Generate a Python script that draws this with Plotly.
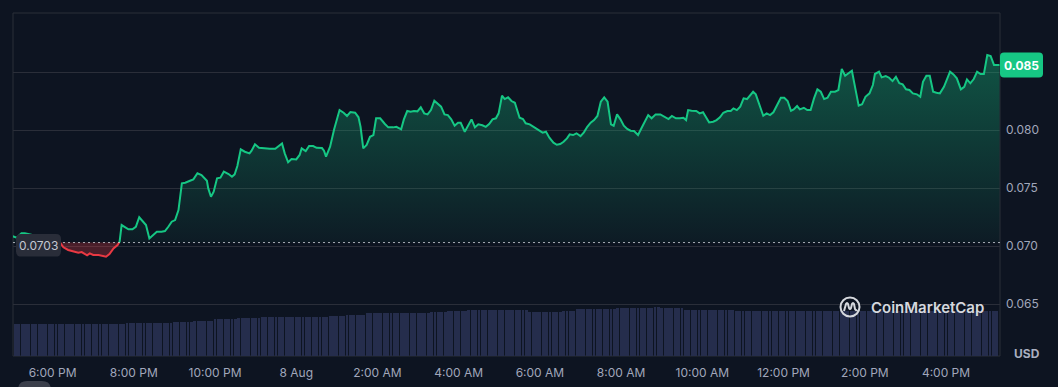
import numpy as np
import pandas as pd
import plotly.graph_objects as go

# ---------------- data ----------------
START = pd.Timestamp("2024-08-07 17:00")

minutes = [
    0, 7, 14, 19, 30, 41, 53, 64, 68, 72,
    76, 83, 91, 98, 103, 108, 111, 115, 120, 128,
    135, 139, 144, 150, 156, 159, 162, 167, 172, 178,
    183, 188, 193, 198, 203, 208, 214, 221, 226, 231,
    236, 241, 246, 251, 256, 263, 268, 274, 280, 288,
    290, 294, 298, 303, 308, 313, 320, 325, 329, 333,
    338, 344, 351, 354, 359, 365, 374, 381, 389, 395,
    399, 403, 408, 413, 420, 425, 428, 434, 439, 445,
    450, 458, 461, 464, 470, 476, 484, 490, 495, 500,
    507, 512, 515, 519, 524, 529, 534, 538, 544, 551,
    556, 563, 568, 575, 579, 584, 589, 594, 599, 604,
    609, 614, 619, 624, 629, 634, 639, 644, 649, 654,
    659, 663, 669, 674, 679, 684, 689, 695, 700, 705,
    710, 715, 719, 724, 728, 733, 738, 743, 750, 755,
    759, 765, 771, 778, 784, 789, 794, 800, 805, 810,
    815, 820, 824, 829, 834, 840, 845, 850, 855, 860,
    865, 870, 875, 880, 885, 889, 894, 899, 904, 909,
    914, 919, 925, 930, 935, 940, 945, 951, 958, 965,
    970, 975, 981, 987, 992, 996, 999, 1004, 1011, 1016,
    1021, 1025, 1030, 1036, 1041, 1046, 1051, 1057, 1062, 1066,
    1071, 1076, 1081, 1086, 1091, 1095, 1099, 1104, 1110, 1115,
    1120, 1125, 1130, 1136, 1141, 1146, 1151, 1155, 1160, 1164,
    1170, 1175, 1180, 1185, 1190, 1195, 1200, 1205, 1210, 1216,
    1221, 1226, 1231, 1236, 1241, 1246, 1251, 1256, 1261, 1267,
    1272, 1275, 1281, 1285, 1291, 1296, 1301, 1306, 1311, 1316,
    1321, 1326, 1331, 1337, 1342, 1346, 1351, 1356, 1361, 1366,
    1371, 1377, 1386, 1391, 1396, 1402, 1407, 1411, 1416, 1421,
    1426, 1431, 1436, 1441, 1446, 1451, 1459,
]

prices = [
    0.07086, 0.07072, 0.07110, 0.07110, 0.07095, 0.07078, 0.07086, 0.07069, 0.07052, 0.07023,
    0.06989, 0.06966, 0.06951, 0.06942, 0.06948, 0.06931, 0.06920, 0.06937, 0.06923, 0.06923,
    0.06914, 0.06908, 0.06931, 0.06980, 0.07009, 0.07037, 0.07181, 0.07161, 0.07144, 0.07144,
    0.07166, 0.07248, 0.07218, 0.07181, 0.07066, 0.07095, 0.07123, 0.07123, 0.07129, 0.07166,
    0.07210, 0.07224, 0.07310, 0.07541, 0.07546, 0.07563, 0.07575, 0.07627, 0.07612, 0.07563,
    0.07497, 0.07425, 0.07468, 0.07584, 0.07589, 0.07641, 0.07621, 0.07597, 0.07618, 0.07690,
    0.07834, 0.07813, 0.07799, 0.07822, 0.07877, 0.07847, 0.07839, 0.07839, 0.07839, 0.07862,
    0.07885, 0.07799, 0.07722, 0.07750, 0.07747, 0.07785, 0.07842, 0.07819, 0.07862, 0.07862,
    0.07847, 0.07845, 0.07822, 0.07770, 0.07856, 0.08006, 0.08172, 0.08149, 0.08121, 0.08155,
    0.08149, 0.08110, 0.08028, 0.07842, 0.07871, 0.07942, 0.07957, 0.08101, 0.08101, 0.08052,
    0.08023, 0.08023, 0.08028, 0.08006, 0.08092, 0.08164, 0.08158, 0.08164, 0.08161, 0.08196,
    0.08144, 0.08135, 0.08172, 0.08253, 0.08224, 0.08201, 0.08135, 0.08129, 0.08092, 0.08037,
    0.08063, 0.08063, 0.07985, 0.08043, 0.08092, 0.08023, 0.08049, 0.08041, 0.08028, 0.08052,
    0.08092, 0.08101, 0.08144, 0.08296, 0.08267, 0.08282, 0.08250, 0.08235, 0.08106, 0.08095,
    0.08058, 0.08049, 0.08028, 0.08000, 0.07977, 0.07985, 0.07934, 0.07891, 0.07873, 0.07879,
    0.07899, 0.07928, 0.07963, 0.07957, 0.07972, 0.07948, 0.07980, 0.08028, 0.08063, 0.08086,
    0.08121, 0.08244, 0.08282, 0.08244, 0.08049, 0.08037, 0.08135, 0.08092, 0.08037, 0.08009,
    0.07994, 0.07991, 0.07957, 0.08015, 0.08066, 0.08129, 0.08101, 0.08135, 0.08135, 0.08115,
    0.08095, 0.08121, 0.08101, 0.08101, 0.08106, 0.08086, 0.08172, 0.08166, 0.08164, 0.08144,
    0.08153, 0.08115, 0.08066, 0.08072, 0.08086, 0.08110, 0.08149, 0.08164, 0.08164, 0.08187,
    0.08172, 0.08201, 0.08273, 0.08267, 0.08302, 0.08330, 0.08308, 0.08216, 0.08123, 0.08144,
    0.08129, 0.08153, 0.08216, 0.08278, 0.08278, 0.08250, 0.08166, 0.08178, 0.08207, 0.08178,
    0.08192, 0.08172, 0.08172, 0.08273, 0.08351, 0.08330, 0.08267, 0.08278, 0.08330, 0.08330,
    0.08345, 0.08526, 0.08468, 0.08489, 0.08511, 0.08359, 0.08210, 0.08222, 0.08287, 0.08316,
    0.08388, 0.08483, 0.08503, 0.08454, 0.08466, 0.08451, 0.08422, 0.08459, 0.08403, 0.08394,
    0.08351, 0.08345, 0.08316, 0.08308, 0.08287, 0.08416, 0.08468, 0.08468, 0.08330, 0.08322,
    0.08316, 0.08373, 0.08503, 0.08480, 0.08446, 0.08351, 0.08373, 0.08437, 0.08403, 0.08440,
    0.08503, 0.08483, 0.08483, 0.08647, 0.08638, 0.08560, 0.08560,
]

base_price = 0.0703
current_label = "0.085"

# volume (rolling, in millions USD) read as step levels starting at given minutes
vol_break_minutes = [0, 170, 238, 270, 297, 332, 366, 470, 492, 525, 558,
                     618, 643, 672, 762, 811, 832, 891, 950, 960, 994, 1068]
vol_levels = [0.924, 0.953, 0.983, 1.012, 1.070, 1.099, 1.128, 1.166, 1.195, 1.245, 1.262,
              1.292, 1.312, 1.332, 1.292, 1.312, 1.356, 1.391, 1.420, 1.391, 1.341, 1.324]
bar_step_minutes = 5
bar_count = 292

tick_times = ["2024-08-07 18:00", "2024-08-07 20:00", "2024-08-07 22:00", "2024-08-08 00:00",
              "2024-08-08 02:00", "2024-08-08 04:00", "2024-08-08 06:00", "2024-08-08 08:00",
              "2024-08-08 10:00", "2024-08-08 12:00", "2024-08-08 14:00", "2024-08-08 16:00"]
tick_labels = ["6:00 PM", "8:00 PM", "10:00 PM", "8 Aug", "2:00 AM", "4:00 AM",
               "6:00 AM", "8:00 AM", "10:00 AM", "12:00 PM", "2:00 PM", "4:00 PM"]
y_tickvals = [0.065, 0.070, 0.075, 0.080, 0.085]
y_ticktext = ["0.065", "0.070", "0.075", "0.080", ""]

# ---------------- styling ----------------
BG = "#0d1421"
GRID = "#2a2e39"
GREEN = "#16c784"
RED = "#ea3943"
TXT = "#a1a7bb"
FONT = "Inter, Roboto, sans-serif"
W, H = 1058, 387
ML, MR, MT, MB = 13, 58, 13, 31
PW, PH = W - ML - MR, H - MT - MB

def px_x(p):
    return (p - ML) / PW

def px_y(p):
    return (H - MB - p) / PH

def rrect(x0, y0, x1, y1, r):
    return (f"M {x0+r},{y0} L {x1-r},{y0} Q {x1},{y0} {x1},{y0+r} L {x1},{y1-r} "
            f"Q {x1},{y1} {x1-r},{y1} L {x0+r},{y1} Q {x0},{y1} {x0},{y1-r} "
            f"L {x0},{y0+r} Q {x0},{y0} {x0+r},{y0} Z")

# ---------------- derived series ----------------
m = np.array(minutes, dtype=float)
p = np.array(prices, dtype=float)
xs, ys = [], []
for i in range(len(p)):
    if i > 0 and (p[i-1] - base_price) * (p[i] - base_price) < 0:
        f = (base_price - p[i-1]) / (p[i] - p[i-1])
        xs.append(m[i-1] + f * (m[i] - m[i-1]))
        ys.append(base_price)
    xs.append(m[i])
    ys.append(p[i])
xs = np.array(xs)
ys = np.array(ys)
t = START + pd.to_timedelta(xs, unit="min")
upper = np.maximum(ys, base_price)
lower = np.minimum(ys, base_price)
green_line = np.where(ys >= base_price, ys, np.nan)
red_line = np.where(ys <= base_price, ys, np.nan)
base_arr = np.full(len(ys), base_price)

bar_m = np.arange(bar_count) * bar_step_minutes
bar_t = START + pd.to_timedelta(bar_m, unit="min")
idx = np.searchsorted(np.array(vol_break_minutes), bar_m, side="right") - 1
bar_v = np.array(vol_levels)[idx]

fig = go.Figure()

fig.add_trace(go.Bar(x=bar_t, y=bar_v, yaxis="y2", width=bar_step_minutes * 60000 * 0.85,
                     marker=dict(color="#252d4c", line=dict(width=0)), hoverinfo="skip"))

fig.add_trace(go.Scatter(x=t, y=base_arr, mode="lines", line=dict(width=0), hoverinfo="skip"))
fig.add_trace(go.Scatter(x=t, y=upper, mode="lines", line=dict(width=0), fill="tonexty",
                         fillgradient=dict(type="vertical", start=base_price, stop=0.0875,
                                           colorscale=[[0, "rgba(22,199,132,0.04)"],
                                                       [1, "rgba(22,199,132,0.38)"]]),
                         hoverinfo="skip"))
fig.add_trace(go.Scatter(x=t, y=base_arr, mode="lines", line=dict(width=0), hoverinfo="skip"))
fig.add_trace(go.Scatter(x=t, y=lower, mode="lines", line=dict(width=0), fill="tonexty",
                         fillcolor="rgba(234,57,67,0.28)", hoverinfo="skip"))
fig.add_trace(go.Scatter(x=t, y=green_line, mode="lines", line=dict(color=GREEN, width=2),
                         connectgaps=False, hoverinfo="skip"))
fig.add_trace(go.Scatter(x=t, y=red_line, mode="lines", line=dict(color=RED, width=2),
                         connectgaps=False, hoverinfo="skip"))

shapes = [
    dict(type="rect", xref="paper", yref="paper", x0=0, x1=1, y0=0, y1=1,
         line=dict(color=GRID, width=1), layer="below"),
    dict(type="line", xref="paper", yref="y", x0=0, x1=1, y0=base_price, y1=base_price,
         line=dict(color="rgba(220,224,232,0.75)", width=1, dash="2px,3px")),
    # current price badge
    dict(type="path", xref="paper", yref="y", xsizemode="pixel", ysizemode="pixel",
         xanchor=1, yanchor=prices[-1], path=rrect(0, -12.5, 43, 12.5, 4),
         fillcolor=GREEN, line=dict(width=0), layer="above"),
    # base price label box
    dict(type="path", xref="paper", yref="y", xsizemode="pixel", ysizemode="pixel",
         xanchor=0, yanchor=base_price, path=rrect(3, -14, 48, 8.5, 5),
         fillcolor="#292d39", line=dict(width=0), layer="above"),
    # watermark logo
    dict(type="circle", xref="paper", yref="paper", xsizemode="pixel", ysizemode="pixel",
         xanchor=px_x(850), yanchor=px_y(307), x0=-9.5, x1=9.5, y0=-9.5, y1=9.5,
         line=dict(color="#d5d8de", width=2), layer="above"),
    dict(type="path", xref="paper", yref="paper", xsizemode="pixel", ysizemode="pixel",
         xanchor=px_x(850), yanchor=px_y(307),
         path="M -6,-4 L -4,3 Q -3,5 -2,3 L -1,-1 Q 0,-3 1,-1 L 2,3 Q 3,5 4,3 L 5,-2 Q 6,-4 7.5,-3",
         line=dict(color="#d5d8de", width=2), layer="above"),
    # partially visible control at bottom-left
    dict(type="path", xref="paper", yref="paper", xsizemode="pixel", ysizemode="pixel",
         xanchor=0, yanchor=0, path=rrect(5, -45, 38, -25, 9),
         fillcolor="#3b3f4b", line=dict(width=0), layer="above"),
]

annotations = [
    dict(xref="paper", yref="y", x=px_x(1021.5), y=prices[-1], text=f"<b>{current_label}</b>",
         showarrow=False, xanchor="center", yanchor="middle",
         font=dict(family=FONT, size=12, color="#ffffff")),
    dict(xref="paper", yref="y", x=px_x(38.5), y=base_price, yshift=-2.8,
         text=f"{base_price:.4f}", showarrow=False, xanchor="center", yanchor="middle",
         font=dict(family=FONT, size=12, color="#c3c7d2")),
    dict(xref="paper", yref="paper", x=px_x(1012), y=px_y(353), text="<b>USD</b>",
         showarrow=False, xanchor="left", yanchor="middle",
         font=dict(family=FONT, size=12, color="#a9afc0")),
    dict(xref="paper", yref="paper", x=px_x(869), y=px_y(307), text="CoinMarketCap",
         showarrow=False, xanchor="left", yanchor="middle",
         font=dict(family=FONT, size=15, color="#d5d8de", weight=600)),
]

fig.update_layout(
    width=W, height=H,
    margin=dict(l=ML, r=MR, t=MT, b=MB, autoexpand=False),
    paper_bgcolor=BG, plot_bgcolor=BG,
    showlegend=False, bargap=0,
    font=dict(family=FONT, size=12, color=TXT),
    xaxis=dict(type="date", automargin=False,
               range=[START + pd.Timedelta(minutes=1.5), START + pd.Timedelta(minutes=1459.8)],
               tickvals=tick_times, ticktext=tick_labels, showgrid=False, zeroline=False,
               showline=False, ticks="", ticklabelstandoff=8,
               tickfont=dict(family=FONT, size=12, color=TXT)),
    yaxis=dict(range=[0.06052, 0.09009], side="right", tickvals=y_tickvals, ticktext=y_ticktext,
               automargin=False,
               showgrid=True, gridcolor=GRID, gridwidth=1, zeroline=False, showline=False,
               ticks="", ticklabelstandoff=5, tickfont=dict(family=FONT, size=12, color=TXT)),
    yaxis2=dict(range=[0, 10], overlaying="y", visible=False, fixedrange=True),
    shapes=shapes, annotations=annotations,
    hovermode=False,
)

fig.write_html(
    "out.html",
    config={"displayModeBar": False, "responsive": False},
    post_script=(
        "var de=document.documentElement;de.style.margin='0';de.style.padding='0';"
        "de.style.overflow='hidden';de.style.height='387px';de.style.background='#0d1421';"
        "var b=document.body;b.style.margin='0';b.style.padding='0';b.style.overflow='hidden';"
        "b.style.height='387px';b.style.width='1058px';b.style.background='#0d1421';"
    ),
)
